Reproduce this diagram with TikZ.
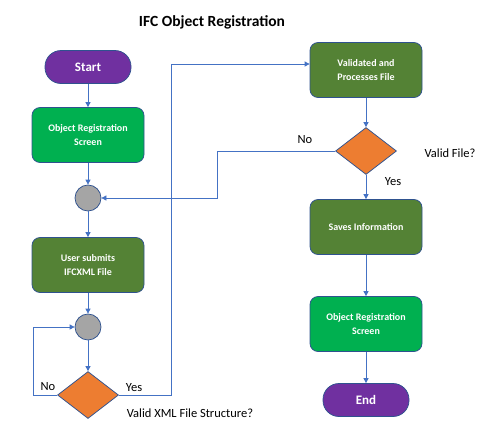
\documentclass[tikz,border=0pt]{standalone}
\usepackage{fontspec}
\setmainfont{Carlito}
\usetikzlibrary{arrows.meta,shapes.geometric}
\definecolor{edgeblue}{HTML}{2F528F}
\definecolor{lineblue}{HTML}{4472C4}
\definecolor{termpurple}{HTML}{7030A0}
\definecolor{lightgreen}{HTML}{00B050}
\definecolor{darkgreen}{HTML}{548235}
\definecolor{decorange}{HTML}{ED7D31}
\definecolor{jointgray}{HTML}{A5A5A5}

\begin{document}
\begin{tikzpicture}[x=1pt,y=-1pt,
    box/.style={draw=edgeblue,line width=0.75pt,rounded corners=8pt,minimum width=112pt,minimum height=55pt,align=center,text=white,font=\fontsize{10}{14}\selectfont\bfseries},
    pill/.style={draw=edgeblue,line width=0.75pt,rounded corners=16pt,minimum width=86pt,minimum height=33pt,text=white,font=\fontsize{13}{15}\selectfont\bfseries},
    joint/.style={circle,draw=edgeblue,line width=0.75pt,fill=jointgray,minimum size=26pt,inner sep=0pt},
    decision/.style={diamond,draw=edgeblue,line width=0.75pt,fill=decorange,minimum width=61pt,minimum height=47pt,inner sep=0pt},
    flow/.style={draw=lineblue,line width=0.75pt,-{Triangle[length=5pt,width=5pt]}},
    note/.style={font=\fontsize{12.5}{14}\selectfont}]
    \useasboundingbox (0,0) rectangle (492,432);
    \node[font=\fontsize{15.5}{17}\selectfont\bfseries] (title) at (212,22) {IFC Object Registration};
    \node[pill,fill=termpurple] (start) at (88,67) {Start};
    \node[box,fill=lightgreen] (reg) at (88,135) {Object Registration\\Screen};
    \node[joint] (joinA) at (88,198) {};
    \node[box,fill=darkgreen] (submit) at (88,265) {User submits\\IFCXML File};
    \node[joint] (joinB) at (88,327) {};
    \node[decision] (xml) at (88,395) {};
    \node[box,fill=darkgreen] (valid) at (366,70) {Validated and\\Processes File};
    \node[decision] (check) at (366,151) {};
    \node[box,fill=darkgreen] (save) at (366,227) {Saves Information};
    \node[box,fill=lightgreen] (regend) at (366,324) {Object Registration\\Screen};
    \node[pill,fill=termpurple] (finish) at (366,400) {End};
    \draw[flow] (start) -- (reg);
    \draw[flow] (reg) -- (joinA);
    \draw[flow] (joinA) -- (submit);
    \draw[flow] (submit) -- (joinB);
    \draw[flow] (joinB) -- (xml);
    \draw[flow] (xml.west) -- ++(-24,0) |- (joinB.west);
    \draw[flow] (xml.east) -- ++(52,0) |- ([yshift=6pt]valid.west);
    \draw[flow] (valid) -- (check);
    \draw[flow] (check.west) -- ++(-118,0) |- (joinA.east);
    \draw[flow] (check) -- (save);
    \draw[flow] (save) -- (regend);
    \draw[flow] (regend) -- (finish);
    \node[note] (xmlno) at (48,387) {No};
    \node[note] (xmlyes) at (134,388) {Yes};
    \node[note] (xmlq) at (190,413) {Valid XML File Structure?};
    \node[note] (checkno) at (305,140) {No};
    \node[note] (checkyes) at (393,182) {Yes};
    \node[note] (checkq) at (450,153) {Valid File?};
\end{tikzpicture}
\end{document}
